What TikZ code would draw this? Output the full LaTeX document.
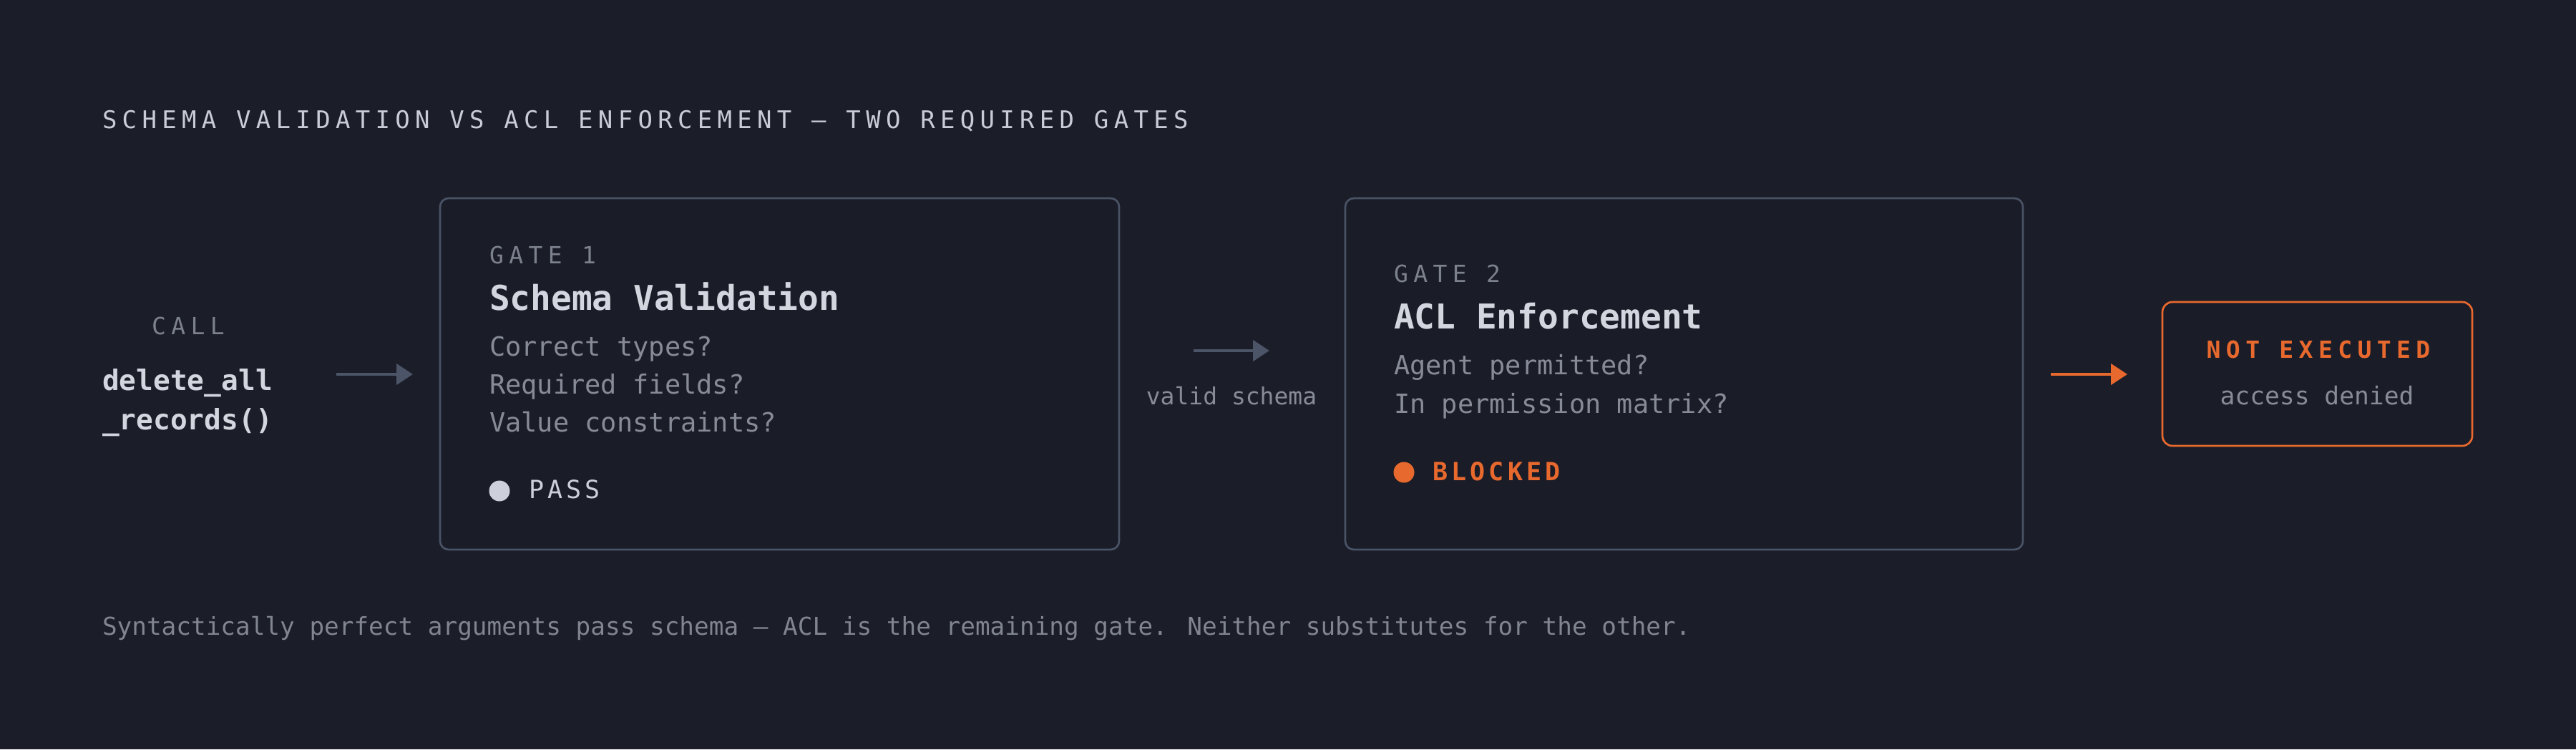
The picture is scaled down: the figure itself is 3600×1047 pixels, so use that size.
\documentclass[tikz,border=0pt]{standalone}
\usepackage{fontspec}
\usetikzlibrary{arrows.meta}
\newfontfamily\monoN{DejaVu Sans Mono}
\newfontfamily\monoA{DejaVu Sans Mono}[LetterSpace=21.5]
\newfontfamily\monoB{DejaVu Sans Mono}[LetterSpace=15]
\newfontfamily\monoC{DejaVu Sans Mono}[LetterSpace=22.5]
\definecolor{bgc}{HTML}{1B1D28}
\definecolor{boxfill}{HTML}{1A1C27}
\definecolor{boxline}{HTML}{4A5366}
\definecolor{arrowc}{HTML}{4B5567}
\definecolor{titlec}{HTML}{C9CCD6}
\definecolor{labelc}{HTML}{7C818E}
\definecolor{headc}{HTML}{D3D6DE}
\definecolor{bodyc}{HTML}{868B97}
\definecolor{passc}{HTML}{CDD0DA}
\definecolor{orangec}{HTML}{E8692E}
\definecolor{footc}{HTML}{80858F}
\newcommand\fTitle{\monoA\fontsize{34}{40}\selectfont}
\newcommand\fLabel{\monoC\fontsize{33}{40}\selectfont}
\newcommand\fHead{\monoN\bfseries\fontsize{47.8}{56}\selectfont}
\newcommand\fBody{\monoN\fontsize{37}{44}\selectfont}
\newcommand\fStat{\monoB\fontsize{35}{42}\selectfont}
\newcommand\fCall{\monoN\bfseries\fontsize{39.5}{46}\selectfont}
\newcommand\fSmall{\monoN\fontsize{33}{40}\selectfont}
\newcommand\fSub{\monoN\fontsize{34.6}{40}\selectfont}
\newcommand\fFoot{\monoN\fontsize{34.35}{40}\selectfont}
\begin{document}
\begin{tikzpicture}[x=1pt,y=-1pt,
  txt/.style={inner sep=0pt, outer sep=0pt, anchor=base west},
  ctxt/.style={inner sep=0pt, outer sep=0pt, anchor=base},
  gatebox/.style={draw=boxline, line width=2.7pt, rounded corners=12pt, fill=boxfill, inner sep=0pt},
  endbox/.style={draw=orangec, line width=2.7pt, rounded corners=14pt, fill=boxfill, inner sep=0pt},
  arr/.style={draw=arrowc, line width=4.5pt, -{Triangle[length=23pt,width=29pt]}},
  oarr/.style={draw=orangec, line width=4.5pt, -{Triangle[length=23pt,width=29pt]}},
  dot/.style={circle, inner sep=0pt, minimum size=29pt},
]
\fill[bgc] (0,0) rectangle (3600,1047);
\useasboundingbox (0,0) rectangle (3600,1047);

% title
\node[txt, text=titlec, font=\fTitle] (title) at (143,179) {SCHEMA VALIDATION VS ACL ENFORCEMENT — TWO REQUIRED GATES};

% call
\node[ctxt, text=labelc, font=\fLabel] (calllbl) at (263,467) {CALL};
\node[txt, text=headc, font=\fCall] (call1) at (143,545) {delete\_all};
\node[txt, text=headc, font=\fCall] (call2) at (143,600) {\_records()};

% boxes
\node[gatebox, minimum width=949pt, minimum height=491pt] (g1) at (1089.5,522.5) {};
\node[gatebox, minimum width=947pt, minimum height=491pt] (g2) at (2353.5,522.5) {};
\node[endbox, minimum width=433pt, minimum height=201pt] (ne) at (3238.5,522.5) {};

% gate 1 content
\node[txt, text=labelc, font=\fLabel] (g1lbl) at (684,368) {GATE 1};
\node[txt, text=headc, font=\fHead] (g1head) at (684,433) {Schema Validation};
\node[txt, text=bodyc, font=\fBody] (g1b1) at (684,497) {Correct types?};
\node[txt, text=bodyc, font=\fBody] (g1b2) at (684,550) {Required fields?};
\node[txt, text=bodyc, font=\fBody] (g1b3) at (684,603) {Value constraints?};
\node[dot, fill=passc] (g1dot) at (698,686) {};
\node[txt, text=passc, font=\fStat] (g1stat) at (739,696) {PASS};

% gate 2 content
\node[txt, text=labelc, font=\fLabel] (g2lbl) at (1948,394) {GATE 2};
\node[txt, text=headc, font=\fHead] (g2head) at (1948,459) {ACL Enforcement};
\node[txt, text=bodyc, font=\fBody] (g2b1) at (1948,523) {Agent permitted?};
\node[txt, text=bodyc, font=\fBody] (g2b2) at (1948,577) {In permission matrix?};
\node[dot, fill=orangec] (g2dot) at (1962,660) {};
\node[txt, text=orangec, font=\fStat\bfseries] (g2stat) at (2002,671) {BLOCKED};

% not executed content
\node[ctxt, text=orangec, font=\fLabel\bfseries] (nelbl) at (3240,500) {NOT EXECUTED};
\node[ctxt, text=bodyc, font=\fSub] (nesub) at (3238,565) {access denied};

% arrows
\coordinate (a1s) at (470,523);
\coordinate (a1e) at (577,523);
\coordinate (a2s) at (1668,490);
\coordinate (a2e) at (1774,490);
\coordinate (a3s) at (2866,523);
\coordinate (a3e) at (2973,523);
\draw[arr] (a1s) -- (a1e);
\draw[arr] (a2s) -- (a2e);
\draw[oarr] (a3s) -- (a3e);
\node[ctxt, text=bodyc, font=\fSmall] (vs) at (1721,565) {valid schema};

% footer
\node[txt, text=footc, font=\fFoot] (foot) at (143,887) {Syntactically perfect arguments pass schema — ACL is the remaining gate. Neither substitutes for the other.};
\end{tikzpicture}
\end{document}
